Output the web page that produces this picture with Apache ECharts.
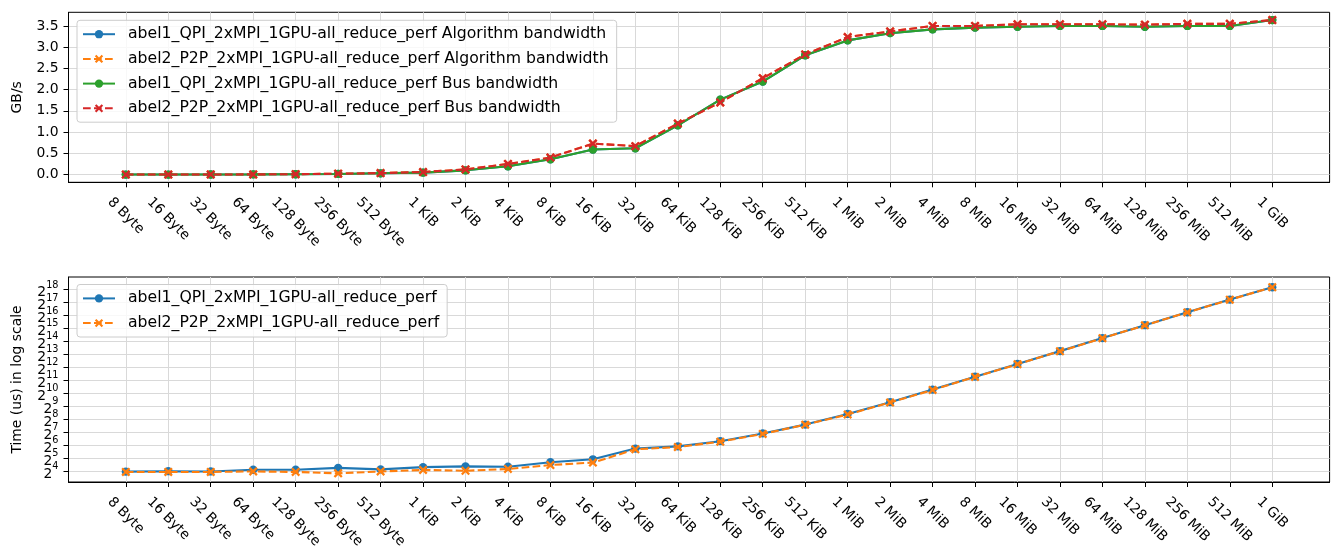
<!DOCTYPE html>
<html><head><meta charset="utf-8">
<script src="https://cdn.jsdelivr.net/npm/echarts@6/dist/echarts.min.js"></script>
<style>html,body{margin:0;padding:0;background:#fff}#c{width:1335px;height:552px}</style>
</head><body><div id="c"></div>
<script>
const categories = ['8 Byte','16 Byte','32 Byte','64 Byte','128 Byte','256 Byte','512 Byte','1 KiB','2 KiB','4 KiB','8 KiB','16 KiB','32 KiB','64 KiB','128 KiB','256 KiB','512 KiB','1 MiB','2 MiB','4 MiB','8 MiB','16 MiB','32 MiB','64 MiB','128 MiB','256 MiB','512 MiB','1 GiB'];
// GB/s
const abel1AlgBw = [0.0005,0.001,0.002,0.004,0.008,0.015,0.03,0.045,0.10,0.195,0.36,0.59,0.62,1.16,1.765,2.19,2.81,3.16,3.33,3.42,3.46,3.48,3.50,3.50,3.48,3.50,3.50,3.64];
const abel2AlgBw = [0.0005,0.001,0.002,0.004,0.009,0.02,0.035,0.06,0.12,0.25,0.40,0.73,0.67,1.20,1.70,2.27,2.83,3.24,3.37,3.50,3.50,3.54,3.54,3.54,3.53,3.55,3.55,3.64];
const abel1BusBw = [0.0005,0.001,0.002,0.004,0.008,0.015,0.03,0.045,0.10,0.195,0.36,0.59,0.62,1.16,1.765,2.19,2.81,3.16,3.33,3.42,3.46,3.48,3.50,3.50,3.48,3.50,3.50,3.64];
const abel2BusBw = [0.0005,0.001,0.002,0.004,0.009,0.02,0.035,0.06,0.12,0.25,0.40,0.73,0.67,1.20,1.70,2.27,2.83,3.24,3.37,3.50,3.50,3.54,3.54,3.54,3.53,3.55,3.55,3.64];
// microseconds
const abel1Time = [15.45,15.8,15.6,17.1,17.1,18.9,17.4,19.7,20.5,20.1,25.5,29.9,53.1,59.7,78.8,119.4,191.3,337.8,634.6,1243,2486,4904,9741,19614,38968,77936,153700,296700];
const abel2Time = [15.2,15.2,15.2,15.6,15.2,14.1,15.6,16.9,16.2,17.8,22.0,25.1,50.9,57.7,76.6,116.2,190,328.5,625.8,1218,2452,4837,9674,19477,38700,77400,152600,296700];
const bwTicks = [0,0.5,1,1.5,2,2.5,3,3.5];
const timeTickExponents = [4,5,6,7,8,9,10,11,12,13,14,15,16,17,18];

const FONT = 'DejaVu Sans';
const FS = 13.9;
const LFS = 15.7;
const C = {blue:'#1f77b4', orange:'#ff7f0e', green:'#2ca02c', red:'#d62728'};
const X_SYMBOL = 'path://M0,18L18,0L50,32L82,0L100,18L68,50L100,82L82,100L50,68L18,100L0,82L32,50Z';

const ctx = document.createElement('canvas').getContext('2d');
ctx.font = FS + 'px "' + FONT + '"';
const xRich = {};
categories.forEach((c, i) => {
  const w = ctx.measureText(c).width;
  const v = 17.6 + 0.3536 * w;
  const P = 1.4142 * v;
  xRich['c' + i] = {padding: [P, 0, 0, P], fontSize: FS, fontFamily: FONT, color: '#000'};
});
const catIdx = categories.map((c, i) => i);

function xAxisCfg(gi) {
  return {
    type: 'value', gridIndex: gi, min: -1.35, max: categories.length - 1 + 1.35,
    axisLine: {show: true, onZero: false, lineStyle: {color: '#000', width: 1}},
    axisTick: {show: true, length: 5, customValues: catIdx, lineStyle: {color: '#000', width: 1}},
    axisLabel: {show: true, customValues: catIdx, rotate: -45, align: 'center', verticalAlign: 'middle', margin: 0,
      showMinLabel: true, showMaxLabel: true,
      formatter: (val) => { const i = Math.round(val); return '{c' + i + '|' + categories[i] + '}'; }, rich: xRich},
    splitLine: {show: true, lineStyle: {color: '#d9d9d9', width: 1}}
  };
}

function lineSeries(name, data, color, dashed, xSym, gi, z) {
  return {
    name, type: 'line', xAxisIndex: gi, yAxisIndex: gi, data, z,
    symbol: xSym ? X_SYMBOL : 'circle', symbolSize: xSym ? 9 : 8.3, showSymbol: true,
    itemStyle: {color}, lineStyle: {color, width: 2.1, type: dashed ? [7.7, 3.3] : 'solid'},
    emphasis: {disabled: true}, silent: true
  };
}

const n1 = 'abel1_QPI_2xMPI_1GPU-all_reduce_perf';
const n2 = 'abel2_P2P_2xMPI_1GPU-all_reduce_perf';
const legendBase = {
  orient: 'vertical', left: 77, itemGap: 8.7, itemWidth: 32, itemHeight: 10.4,
  padding: [5.9, 8, 5.9, 5], backgroundColor: 'rgba(255,255,255,0.8)', borderColor: '#cccccc', borderWidth: 1, borderRadius: 3,
  textStyle: {fontSize: LFS, fontFamily: FONT, color: '#000', padding: [0, 0, 0, 8]}, selectedMode: false
};
// even and odd exponents go on two overlapping axes so that no label is dropped for crowding
const evenTimeTicks = timeTickExponents.filter(e => e % 2 === 0).map(e => Math.pow(2, e));
const oddTimeTicks = timeTickExponents.filter(e => e % 2 === 1).map(e => Math.pow(2, e));
const timeMin = Math.pow(2, 3.15), timeMax = Math.pow(2, 18.97);

function timeAxis(ticks, primary) {
  return {
    type: 'log', logBase: 2, gridIndex: 1, position: 'left', offset: 0, min: timeMin, max: timeMax,
    name: primary ? 'Time (us) in log scale' : '', nameLocation: 'middle', nameGap: 44,
    nameTextStyle: {fontSize: FS, fontFamily: FONT, color: '#000'},
    axisLine: {show: primary, onZero: false, lineStyle: {color: '#000', width: 1}},
    axisTick: {show: true, length: 5, customValues: ticks, lineStyle: {color: '#000', width: 1}},
    axisLabel: {customValues: ticks, margin: 10, color: '#000', showMinLabel: true, showMaxLabel: true,
      formatter: v => '{b|2}{s|' + Math.round(Math.log2(v)) + '}',
      rich: {b: {fontSize: FS, fontFamily: FONT, color: '#000', padding: [6, 0, 0, 0]},
             s: {fontSize: 9.7, fontFamily: FONT, color: '#000', padding: [0, 0, 9, 0]}}},
    splitLine: {show: true, lineStyle: {color: '#d9d9d9', width: 1}}
  };
}

const option = {
  animation: false,
  grid: [
    {left: 68.5, right: 5.4, top: 12.3, height: 170, show: true, borderColor: '#000', borderWidth: 1, containLabel: false},
    {left: 68.5, right: 5.4, top: 277, bottom: 70, show: true, borderColor: '#000', borderWidth: 1, containLabel: false}
  ],
  legend: [
    Object.assign({}, legendBase, {top: 20.3, data: [n1 + ' Algorithm bandwidth', n2 + ' Algorithm bandwidth', n1 + ' Bus bandwidth', n2 + ' Bus bandwidth']}),
    Object.assign({}, legendBase, {top: 284.5, data: [n1, n2]})
  ],
  xAxis: [xAxisCfg(0), xAxisCfg(1)],
  yAxis: [
    {type: 'value', gridIndex: 0, min: -0.182, max: 3.822, name: 'GB/s', nameLocation: 'middle', nameGap: 44,
      nameTextStyle: {fontSize: FS, fontFamily: FONT, color: '#000'},
      axisLine: {show: true, onZero: false, lineStyle: {color: '#000', width: 1}},
      axisTick: {show: true, length: 5, customValues: bwTicks, lineStyle: {color: '#000', width: 1}},
      axisLabel: {customValues: bwTicks, margin: 10, fontSize: FS, fontFamily: FONT, color: '#000',
        showMinLabel: true, showMaxLabel: true, formatter: v => v.toFixed(1)},
      splitLine: {show: true, lineStyle: {color: '#d9d9d9', width: 1}}},
    timeAxis(evenTimeTicks, true),
    timeAxis(oddTimeTicks, false)
  ],
  series: [
    lineSeries(n1 + ' Algorithm bandwidth', abel1AlgBw.map((v, i) => [i, v]), C.blue, false, false, 0, 2),
    lineSeries(n2 + ' Algorithm bandwidth', abel2AlgBw.map((v, i) => [i, v]), C.orange, true, true, 0, 3),
    lineSeries(n1 + ' Bus bandwidth', abel1BusBw.map((v, i) => [i, v]), C.green, false, false, 0, 4),
    lineSeries(n2 + ' Bus bandwidth', abel2BusBw.map((v, i) => [i, v]), C.red, true, true, 0, 5),
    lineSeries(n1, abel1Time.map((v, i) => [i, v]), C.blue, false, false, 1, 2),
    lineSeries(n2, abel2Time.map((v, i) => [i, v]), C.orange, true, true, 1, 3)
  ]
};
echarts.init(document.getElementById('c'), null, {renderer: 'canvas'}).setOption(option);
</script></body></html>
